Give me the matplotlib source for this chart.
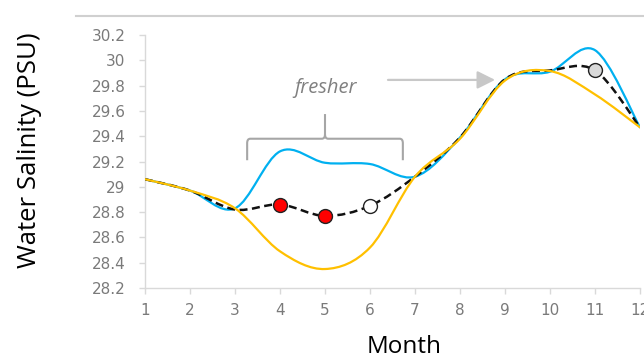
import matplotlib
matplotlib.use("Agg")
import matplotlib.pyplot as plt
from matplotlib.path import Path
from matplotlib.patches import PathPatch, FancyArrowPatch
from matplotlib.lines import Line2D

months = [1, 2, 3, 4, 5, 6, 7, 8, 9, 10, 11, 12]
blue = [29.06, 28.97, 28.83, 29.28, 29.19, 29.18, 29.08, 29.39, 29.85, 29.91, 30.08, 29.47]
orange = [29.06, 28.97, 28.83, 28.49, 28.35, 28.52, 29.08, 29.38, 29.84, 29.915, 29.73, 29.47]
model = [29.06, 28.97, 28.82, 28.86, 28.77, 28.85, 29.08, 29.39, 29.85, 29.92, 29.92, 29.47]
red_months = [4, 5]
white_months = [6]
grey_months = [11]
yticks = [28.2, 28.4, 28.6, 28.8, 29.0, 29.2, 29.4, 29.6, 29.8, 30.0, 30.2]
ytick_labels = ["28.2", "28.4", "28.6", "28.8", "29", "29.2", "29.4", "29.6", "29.8", "30", "30.2"]
xtick_labels = [str(m) for m in months]


def smooth_path(xs, ys):
    """Excel-style smoothed line drawn as cubic Bezier segments."""
    pts = list(zip(xs, ys))
    n = len(pts)
    verts = [pts[0]]
    codes = [Path.MOVETO]
    for i in range(n - 1):
        p0 = pts[i - 1] if i > 0 else pts[i]
        p1 = pts[i]
        p2 = pts[i + 1]
        p3 = pts[i + 2] if i + 2 < n else pts[i + 1]
        c1 = (p1[0] + (p2[0] - p0[0]) / 6, p1[1] + (p2[1] - p0[1]) / 6)
        c2 = (p2[0] - (p3[0] - p1[0]) / 6, p2[1] - (p3[1] - p1[1]) / 6)
        verts += [c1, c2, p2]
        codes += [Path.CURVE4] * 3
    return Path(verts, codes)


fig = plt.figure(figsize=(6.44, 3.58), dpi=100)
ax = fig.add_axes([145 / 644, 1 - 288 / 358, (640 - 145) / 644, (288 - 35) / 358])
ax.set_xlim(1, 12)
ax.set_ylim(28.2, 30.2)

ax.add_patch(PathPatch(smooth_path(months, blue), fill=False, edgecolor="#00B0F0", lw=1.6, zorder=3, capstyle="round"))
ax.add_patch(PathPatch(smooth_path(months, model), fill=False, edgecolor="#111111", lw=1.8,
                       linestyle=(0, (3.2, 1.8)), zorder=4))
ax.add_patch(PathPatch(smooth_path(months, orange), fill=False, edgecolor="#FFC000", lw=1.6, zorder=5, capstyle="round"))


def mval(m):
    return model[months.index(m)]


ax.plot(red_months, [mval(m) for m in red_months], "o", ms=10, mfc="#FF0000", mec="#222222", mew=1.0, zorder=6)
ax.plot(white_months, [mval(m) for m in white_months], "o", ms=10, mfc="white", mec="#222222", mew=1.0, zorder=6)
ax.plot(grey_months, [mval(m) for m in grey_months], "o", ms=10, mfc="#D9D9D9", mec="#222222", mew=1.0, zorder=6)

# axes styling
for s in ["top", "right"]:
    ax.spines[s].set_visible(False)
for s in ["left", "bottom"]:
    ax.spines[s].set_color("#D9D9D9")
    ax.spines[s].set_linewidth(1.0)
ax.set_xticks(months)
ax.set_xticklabels(xtick_labels)
ax.set_yticks(yticks)
ax.set_yticklabels(ytick_labels)
ax.tick_params(axis="both", colors="#D9D9D9", length=4, width=1.0, labelcolor="#7A7A7A", labelsize=11)
ax.tick_params(axis="y", pad=10)
ax.tick_params(axis="x", pad=7)
for lbl in ax.get_xticklabels() + ax.get_yticklabels():
    lbl.set_fontfamily("DejaVu Sans")

fig.text(30 / 644, 1 - 150 / 358, "Water Salinity (PSU)", rotation=90, ha="center", va="center",
         fontsize=18.5, family="Open Sans", color="black")
fig.text(404 / 644, 1 - 347 / 358, "Month", ha="center", va="center", fontsize=17.5, family="Open Sans", color="black")

# annotations
ax.text(5.02, 29.78, "fresher", ha="center", va="center", fontsize=14.5, style="italic",
        family="Open Sans", color="#808080")

bl, br, bm = 3.27, 6.73, 5.0
yb, yh, yt = 29.21, 29.38, 29.575
dx, dy = 0.07, 0.035
bverts = [(bl, yb), (bl, yh - dy), (bl, yh), (bl + dx, yh), (bm - dx, yh), (bm, yh), (bm, yh + dy), (bm, yt),
          (bm, yh + dy), (bm, yh), (bm + dx, yh), (br - dx, yh), (br, yh), (br, yh - dy), (br, yb)]
bcodes = [Path.MOVETO, Path.LINETO, Path.CURVE3, Path.CURVE3, Path.LINETO, Path.CURVE3, Path.CURVE3, Path.LINETO,
          Path.MOVETO, Path.CURVE3, Path.CURVE3, Path.LINETO, Path.CURVE3, Path.CURVE3, Path.LINETO]
ax.add_patch(PathPatch(Path(bverts, bcodes), fill=False, edgecolor="#A6A6A6", lw=1.5, zorder=2))

arrow = FancyArrowPatch((6.4, 29.845), (8.78, 29.845), arrowstyle="-|>,head_length=1.08,head_width=0.54",
                        mutation_scale=10, color="#C8C8C8", lw=1.6, zorder=2, shrinkA=0, shrinkB=0)
ax.add_patch(arrow)

fig.add_artist(Line2D([76 / 644, 1.0], [1 - 16 / 358, 1 - 16 / 358], color="#D0D0D0", lw=1.5))

fig.savefig("out.png", dpi=100)
